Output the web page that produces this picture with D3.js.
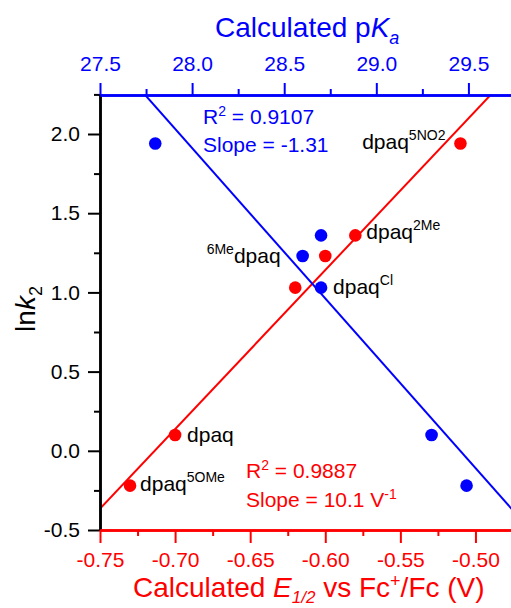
<!DOCTYPE html>
<html>
<head>
<meta charset="utf-8">
<script src="https://cdn.jsdelivr.net/npm/d3@7"></script>
<style>
  body { margin: 0; background: #fff; }
  text { font-family: "Liberation Sans", Arial, sans-serif; }
</style>
</head>
<body>
<div id="chart"></div>
<script>
// data
// red series: calculated E1/2 (V) vs ln k2
var redE = [-0.730, -0.700, -0.620, -0.600, -0.580, -0.510];
var redLnk = [-0.22, 0.10, 1.03, 1.23, 1.36, 1.94];
// blue series: calculated pKa vs ln k2
var bluePka = [27.80, 28.60, 28.70, 28.70, 29.30, 29.49];
var blueLnk = [1.94, 1.23, 1.36, 1.03, 0.10, -0.22];

// tick values
var yMajor = [-0.5, 0.0, 0.5, 1.0, 1.5, 2.0];
var yMinor = [-0.25, 0.25, 0.75, 1.25, 1.75, 2.25];
var eMajor = [-0.75, -0.70, -0.65, -0.60, -0.55, -0.50];
var eMinor = [-0.725, -0.675, -0.625, -0.575, -0.525, -0.475];
var pMajor = [27.5, 28.0, 28.5, 29.0, 29.5];
var pMinor = [27.75, 28.25, 28.75, 29.25, 29.75];

// compound labels: which series/point they sit next to
var labelSeries = ["red", "red", "blue", "blue", "red", "red"];
var labelPoint = [5, 4, 1, 3, 1, 0];
var labelPre = ["", "", "6Me", "", "", ""];
var labelSup = ["5NO2", "2Me", "", "Cl", "", "5OMe"];

var blue = "#0000ff", red = "#ff0000";

// plot box (right side runs off the page, like the original)
var box = {left: 100, right: 513, top: 94.4, bottom: 530};

var svg = d3.select("#chart").append("svg")
  .attr("width", 511)
  .attr("height", 608);

// set the ranges
var x = d3.scaleLinear().domain([-0.75, -0.475]).range([box.left, box.right]);
var xTop = d3.scaleLinear().domain([27.5, 29.742]).range([box.left, box.right]);
var y = d3.scaleLinear().domain([-0.5, 2.25]).range([box.bottom, box.top]);

// least squares fit
function fit(xs, ys) {
  var mx = d3.mean(xs), my = d3.mean(ys);
  var sxy = d3.sum(xs, function(d, i) { return (d - mx) * (ys[i] - my); });
  var sxx = d3.sum(xs, function(d) { return (d - mx) * (d - mx); });
  var m = sxy / sxx;
  return {m: m, b: my - m * mx};
}

svg.append("clipPath").attr("id", "plot")
  .append("rect")
    .attr("x", box.left).attr("y", box.top)
    .attr("width", box.right - box.left).attr("height", box.bottom - box.top);

var redFit = fit(redE, redLnk);
var blueFit = fit(bluePka, blueLnk);

var lines = svg.append("g").attr("clip-path", "url(#plot)");
lines.append("line")
  .attr("x1", x(-0.76)).attr("y1", y(redFit.m * -0.76 + redFit.b))
  .attr("x2", x(-0.46)).attr("y2", y(redFit.m * -0.46 + redFit.b))
  .attr("stroke", red).attr("stroke-width", 2);
lines.append("line")
  .attr("x1", xTop(27.4)).attr("y1", y(blueFit.m * 27.4 + blueFit.b))
  .attr("x2", xTop(29.9)).attr("y2", y(blueFit.m * 29.9 + blueFit.b))
  .attr("stroke", blue).attr("stroke-width", 2);

// points
svg.append("g").selectAll("circle")
  .data(redE)
  .enter().append("circle")
    .attr("cx", function(d) { return x(d); })
    .attr("cy", function(d, i) { return y(redLnk[i]); })
    .attr("r", 6.3)
    .attr("fill", red);
svg.append("g").selectAll("circle")
  .data(bluePka)
  .enter().append("circle")
    .attr("cx", function(d) { return xTop(d); })
    .attr("cy", function(d, i) { return y(blueLnk[i]); })
    .attr("r", 6.3)
    .attr("fill", blue);

// axes
function styleAxis(g, color, width) {
  g.select(".domain").attr("stroke", color).attr("stroke-width", width);
  g.selectAll(".tick line").attr("stroke", color).attr("stroke-width", 2);
  g.selectAll(".tick text").attr("fill", color)
    .style("font-size", "21px")
    .style("font-family", "'Liberation Sans', Arial, sans-serif");
}

// Y axis, black
var gy = svg.append("g").attr("transform", "translate(" + box.left + ",0)");
gy.call(d3.axisLeft(y).tickValues(yMajor).tickSize(12).tickSizeOuter(0).tickPadding(8)
  .tickFormat(function(d) { return d.toFixed(1); }));
styleAxis(gy, "#000", 2.5);
var gy2 = svg.append("g").attr("transform", "translate(" + box.left + ",0)");
gy2.call(d3.axisLeft(y).tickValues(yMinor).tickSize(6).tickSizeOuter(0).tickFormat(""));
styleAxis(gy2, "#000", 2.5);

// bottom axis, red
var gx = svg.append("g").attr("transform", "translate(0," + box.bottom + ")");
gx.call(d3.axisBottom(x).tickValues(eMajor).tickSize(13).tickSizeOuter(0).tickPadding(9)
  .tickFormat(function(d) { return d.toFixed(2); }));
styleAxis(gx, red, 2.5);
var gx2 = svg.append("g").attr("transform", "translate(0," + box.bottom + ")");
gx2.call(d3.axisBottom(x).tickValues(eMinor).tickSize(6).tickSizeOuter(0).tickFormat(""));
styleAxis(gx2, red, 2.5);

// top axis, blue
var gt = svg.append("g").attr("transform", "translate(0," + (box.top + 0.6) + ")");
gt.call(d3.axisTop(xTop).tickValues(pMajor).tickSize(12).tickSizeOuter(0).tickPadding(12)
  .tickFormat(function(d) { return d.toFixed(1); }));
styleAxis(gt, blue, 2.5);
var gt2 = svg.append("g").attr("transform", "translate(0," + (box.top + 0.6) + ")");
gt2.call(d3.axisTop(xTop).tickValues(pMinor).tickSize(6).tickSizeOuter(0).tickFormat(""));
styleAxis(gt2, blue, 2.5);

// axis titles
var tTop = svg.append("text")
  .attr("x", 215).attr("y", 37)
  .attr("fill", blue).style("font-size", "28px");
tTop.append("tspan").text("Calculated p");
tTop.append("tspan").style("font-style", "italic").text("K");
tTop.append("tspan").attr("dy", 7).style("font-size", "18px").style("font-style", "italic").text("a");

var tBot = svg.append("text")
  .attr("x", 133).attr("y", 597)
  .attr("fill", red).style("font-size", "28px");
tBot.append("tspan").text("Calculated ");
tBot.append("tspan").style("font-style", "italic").text("E");
tBot.append("tspan").attr("dy", 6).style("font-size", "17px").style("font-style", "italic").text("1/2");
tBot.append("tspan").attr("dy", -6).text(" vs Fc");
tBot.append("tspan").attr("dy", -10).style("font-size", "18px").text("+");
tBot.append("tspan").attr("dy", 10).text("/Fc (V)");

var tY = svg.append("text")
  .attr("transform", "translate(35,309) rotate(-90)")
  .attr("text-anchor", "middle")
  .attr("fill", "#000").style("font-size", "28px");
tY.append("tspan").text("ln");
tY.append("tspan").style("font-style", "italic").text("k");
tY.append("tspan").attr("dy", 7).style("font-size", "18px").text("2");

// fit statistics
function stat(xp, yp, color) {
  return svg.append("text").attr("fill", color).style("font-size", "21px")
    .attr("x", xp).attr("y", yp);
}
var s1 = stat(203, 124, blue);
s1.append("tspan").text("R");
s1.append("tspan").attr("dy", -8).style("font-size", "14px").text("2");
s1.append("tspan").attr("dy", 8).text(" = 0.9107");
stat(203, 152, blue).text("Slope = -1.31");

var s2 = stat(246, 478, red);
s2.append("tspan").text("R");
s2.append("tspan").attr("dy", -8).style("font-size", "14px").text("2");
s2.append("tspan").attr("dy", 8).text(" = 0.9887");
var s3 = stat(246, 507, red);
s3.append("tspan").text("Slope = 10.1 V");
s3.append("tspan").attr("dy", -8).style("font-size", "14px").text("-1");

// compound labels, placed next to their points
var offs = [[-15, 5, "end"], [11, 4, "start"], [-22, 7, "end"], [12, 6, "start"], [12, 7, "start"], [10, 5, "start"]];
labelSeries.forEach(function(s, i) {
  var k = labelPoint[i];
  var px = s == "red" ? x(redE[k]) : xTop(bluePka[k]);
  var py = y(s == "red" ? redLnk[k] : blueLnk[k]);
  var t = svg.append("text")
    .attr("x", px + offs[i][0]).attr("y", py + offs[i][1])
    .attr("text-anchor", offs[i][2])
    .attr("fill", "#000").style("font-size", "21px");
  if (labelPre[i]) {
    t.append("tspan").attr("dy", -9).style("font-size", "14px").text(labelPre[i]);
    t.append("tspan").attr("dy", 9).text("dpaq");
  } else {
    t.append("tspan").text("dpaq");
  }
  if (labelSup[i]) {
    t.append("tspan").attr("dy", -9).style("font-size", "14px").text(labelSup[i]);
  }
});
</script>
</body>
</html>
